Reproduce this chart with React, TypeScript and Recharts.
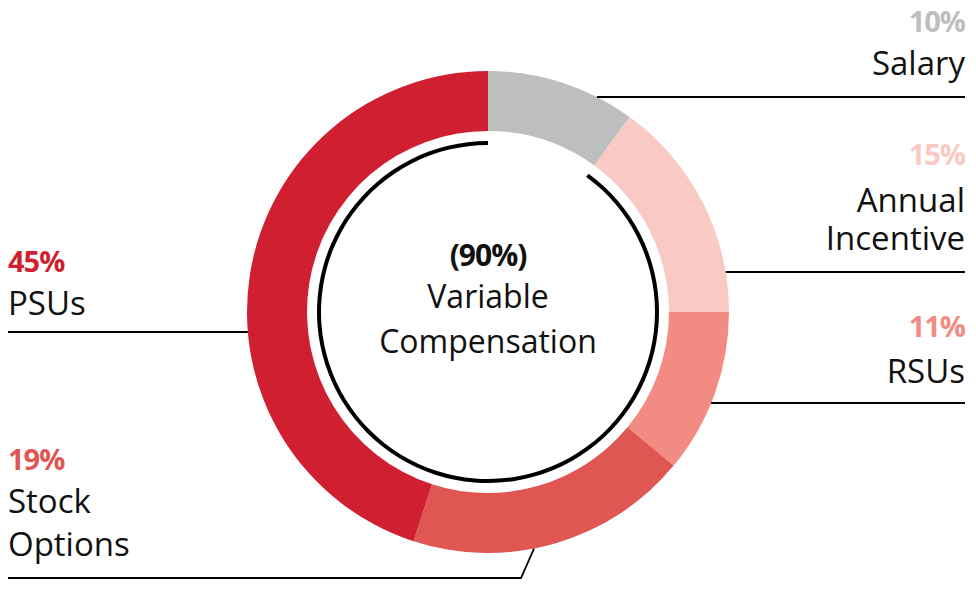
import { PieChart, Pie, Cell } from 'recharts';

const CATEGORIES = ['Salary', 'Annual Incentive', 'RSUs', 'Stock Options', 'PSUs'];
const SHARES = [10, 15, 11, 19, 45];
const LABEL_LINES = [['Salary'], ['Annual', 'Incentive'], ['RSUs'], ['Stock', 'Options'], ['PSUs']];

const SPLIT_NAMES = ['Fixed', 'Variable'];
const SPLIT_SHARES = [10, 90];
const CENTER_LINES = ['(90%)', 'Variable', 'Compensation'];

const COLORS = ['#BCBEC0', '#F9CAC3', '#F28C82', '#E05653', '#D01F31'];
const FONT = '"Open Sans", "Noto Sans", sans-serif';

// callout placement, tuned by eye against the reference
const CALLOUTS = [
    { side: 'right', pctY: 32, textY: [75], lineY: 97 },
    { side: 'right', pctY: 165, textY: [212, 250], lineY: 272 },
    { side: 'right', pctY: 337, textY: [383], lineY: 403 },
    { side: 'left', pctY: 470, textY: [513, 556], lineY: 578, elbowX: 521, elbowAngle: 169 },
    { side: 'left', pctY: 272, textY: [315], lineY: 332 },
];

const data = CATEGORIES.map((name, i) => ({ name, value: SHARES[i] }));
const split = SPLIT_NAMES.map((name, i) => ({ name, value: SPLIT_SHARES[i] }));

function renderCallout(props: any) {
    const { cx, cy, outerRadius, index } = props;
    const c = CALLOUTS[index];
    const right = c.side === 'right';
    const textX = right ? 965 : 8;
    const anchor = right ? 'end' : 'start';

    let path: string;
    if (c.elbowX !== undefined) {
        const rad = (c.elbowAngle * Math.PI) / 180;
        const ex = cx + outerRadius * Math.sin(rad);
        const ey = cy - outerRadius * Math.cos(rad);
        path = `M${textX},${c.lineY}H${c.elbowX}L${ex},${ey}`;
    } else {
        const dy = c.lineY - cy;
        const dx = Math.sqrt(outerRadius * outerRadius - dy * dy);
        const rx = right ? cx + dx : cx - dx;
        path = `M${rx},${c.lineY}H${textX}`;
    }

    return (
        <g key={`callout-${index}`}>
            <path d={path} stroke="#000" strokeWidth={1.8} fill="none" />
            <text
                x={textX}
                y={c.pctY}
                textAnchor={anchor}
                fill={COLORS[index]}
                fontFamily={FONT}
                fontWeight={700}
                fontSize={29}
                letterSpacing={-1}
            >
                {SHARES[index]}%
            </text>
            {LABEL_LINES[index].map((line, j) => (
                <text
                    key={line}
                    x={textX}
                    y={c.textY[j]}
                    textAnchor={anchor}
                    fill="#111"
                    fontFamily={FONT}
                    fontSize={33}
                >
                    {line}
                </text>
            ))}
        </g>
    );
}

function renderCenter(props: any) {
    const { cx, cy, index } = props;
    if (index !== 1) return null;
    return (
        <g key="center">
            <text x={cx} y={cy - 46} textAnchor="middle" fill="#111" fontFamily={FONT} fontWeight={700} fontSize={30} letterSpacing={-1}>
                {CENTER_LINES[0]}
            </text>
            <text x={cx} y={cy - 4} textAnchor="middle" fill="#111" fontFamily={FONT} fontSize={32}>
                {CENTER_LINES[1]}
            </text>
            <text x={cx} y={cy + 41} textAnchor="middle" fill="#111" fontFamily={FONT} fontSize={32}>
                {CENTER_LINES[2]}
            </text>
        </g>
    );
}

export default function App() {
    return (
        <div style={{ position: 'absolute', left: 0, top: 0, background: '#fff' }}>
            <PieChart width={976} height={614} margin={{ top: 0, right: 0, bottom: 0, left: 0 }}>
                <Pie
                    data={data}
                    dataKey="value"
                    nameKey="name"
                    cx={488}
                    cy={312}
                    innerRadius={181}
                    outerRadius={241}
                    startAngle={90}
                    endAngle={-270}
                    stroke="none"
                    label={renderCallout}
                    labelLine={false}
                    isAnimationActive={false}
                >
                    {data.map((d, i) => (
                        <Cell key={d.name} fill={COLORS[i]} stroke="none" />
                    ))}
                </Pie>
                <Pie
                    data={split}
                    dataKey="value"
                    nameKey="name"
                    cx={488}
                    cy={312}
                    innerRadius={167}
                    outerRadius={171}
                    startAngle={90}
                    endAngle={-270}
                    stroke="none"
                    label={renderCenter}
                    labelLine={false}
                    isAnimationActive={false}
                >
                    <Cell fill="transparent" stroke="none" />
                    <Cell fill="#000" stroke="none" />
                </Pie>
            </PieChart>
        </div>
    );
}
